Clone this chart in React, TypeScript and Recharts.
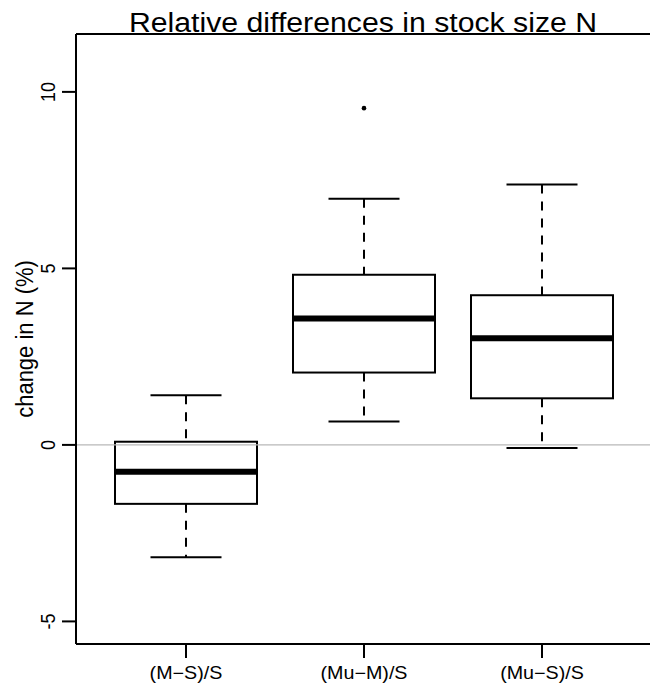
import React from 'react';
import { ComposedChart, Bar, Line, XAxis, YAxis, ReferenceLine } from 'recharts';

const categories = ['(M\u2212S)/S', '(Mu\u2212M)/S', '(Mu\u2212S)/S'];
const whiskerLow = [-3.18, 0.66, -0.09];
const q1 = [-1.67, 2.05, 1.32];
const median = [-0.76, 3.58, 3.02];
const q3 = [0.09, 4.82, 4.24];
const whiskerHigh = [1.41, 6.97, 7.38];
const outliers: number[][] = [[], [9.54], []];
const yTicks = [-5, 0, 5, 10];
const yLimits = [-5, 11];

const title = 'Relative differences in stock size N';
const yLabel = 'change in N (%)';

const FONT = '"Liberation Sans", Arial, Helvetica, sans-serif';
const SX = 1.12;

const ext = (yLimits[1] - yLimits[0]) * 0.04;
const yDomain = [yLimits[0] - ext, yLimits[1] + ext];

const data = categories.map((name, i) => ({
  name,
  box: [q1[i], q3[i]],
  lo: whiskerLow[i],
  q1: q1[i],
  med: median[i],
  q3: q3[i],
  hi: whiskerHigh[i],
  out: outliers[i],
  frame: yLimits[0],
}));

const BoxShape = (props: any) => {
  const { x, y, width, height, payload } = props;
  const top = Math.min(y, y + height);
  const bottom = Math.max(y, y + height);
  const ppu = (bottom - top) / (payload.q3 - payload.q1);
  const toY = (v: number) => top + (payload.q3 - v) * ppu;
  const cx = x + width / 2;
  const sw = width / 4;
  return (
    <g>
      <line x1={cx} x2={cx} y1={toY(payload.hi)} y2={top} stroke="#000" strokeWidth={2} strokeDasharray="9 8" />
      <line x1={cx} x2={cx} y1={bottom} y2={toY(payload.lo)} stroke="#000" strokeWidth={2} strokeDasharray="9 8" />
      <line x1={cx - sw} x2={cx + sw} y1={toY(payload.hi)} y2={toY(payload.hi)} stroke="#000" strokeWidth={2} />
      <line x1={cx - sw} x2={cx + sw} y1={toY(payload.lo)} y2={toY(payload.lo)} stroke="#000" strokeWidth={2} />
      <rect x={x} y={top} width={width} height={bottom - top} fill="none" stroke="#000" strokeWidth={2} />
      <line x1={x} x2={x + width} y1={toY(payload.med)} y2={toY(payload.med)} stroke="#000" strokeWidth={6} />
      {payload.out.map((v: number, k: number) => (
        <circle key={k} cx={cx} cy={toY(v)} r={2.3} fill="#000" />
      ))}
    </g>
  );
};

const YTick = (props: any) => {
  const { x, y, payload } = props;
  const tx = x - 12;
  return (
    <text
      x={0}
      y={0}
      transform={`translate(${tx}, ${y}) scale(${SX}, 1) rotate(-90)`}
      textAnchor="middle"
      dominantBaseline="central"
      fontSize={18}
      fontFamily={FONT}
      fill="#000"
    >
      {payload.value}
    </text>
  );
};

const XTick = (props: any) => {
  const { x, y, payload } = props;
  return (
    <text
      x={0}
      y={0}
      transform={`translate(${x}, ${y + 19}) scale(${SX}, 1)`}
      textAnchor="middle"
      fontSize={17.6}
      fontFamily={FONT}
      fill="#000"
    >
      {payload.value}
    </text>
  );
};

const YLabel = (props: any) => {
  const vb = props.viewBox || {};
  const lx = vb.x + 25;
  const ly = vb.y + vb.height / 2;
  return (
    <text
      x={0}
      y={0}
      transform={`translate(${lx}, ${ly}) scale(${SX}, 1) rotate(-90)`}
      textAnchor="middle"
      dominantBaseline="central"
      fontSize={22}
      fontFamily={FONT}
      fill="#000"
    >
      {yLabel}
    </text>
  );
};

const TitleLabel = (props: any) => {
  const vb = props.viewBox || {};
  return (
    <text
      x={0}
      y={0}
      transform={`translate(${vb.x + vb.width / 2}, ${vb.y - 2.5}) scale(${SX}, 1)`}
      textAnchor="middle"
      fontSize={27}
      fontFamily={FONT}
      fill="#000"
    >
      {title}
    </text>
  );
};

export default function App() {
  return (
    <div style={{ position: 'absolute', left: 0, top: 0, width: 651, height: 686, background: '#fff' }}>
      <ComposedChart
        width={651}
        height={686}
        data={data}
        margin={{ top: 34, right: 1, bottom: 0, left: 0 }}
        style={{ fontFamily: FONT }}
      >
        <XAxis
          dataKey="name"
          type="category"
          height={42}
          padding={{ left: 21, right: 19 }}
          tickSize={14}
          tickMargin={2}
          axisLine={{ stroke: '#000', strokeWidth: 2 }}
          tickLine={{ stroke: '#000', strokeWidth: 2 }}
          tick={<XTick />}
          interval={0}
        />
        <YAxis
          type="number"
          domain={yDomain}
          ticks={yTicks}
          allowDataOverflow
          width={76}
          tickSize={14}
          tickMargin={2}
          axisLine={{ stroke: '#000', strokeWidth: 2 }}
          tickLine={{ stroke: '#000', strokeWidth: 2 }}
          tick={<YTick />}
          label={<YLabel />}
        />
        <YAxis
          yAxisId="right"
          orientation="right"
          type="number"
          domain={yDomain}
          allowDataOverflow
          width={0}
          tick={false}
          tickLine={false}
          axisLine={{ stroke: '#000', strokeWidth: 2 }}
        />
        <Line
          yAxisId="right"
          dataKey="frame"
          stroke="none"
          dot={false}
          activeDot={false}
          legendType="none"
          isAnimationActive={false}
        />
        <ReferenceLine y={0} stroke="#b8b8b8" strokeWidth={1.3} />
        <ReferenceLine
          y={yDomain[1]}
          stroke="#000"
          strokeWidth={2}
          ifOverflow="visible"
          label={<TitleLabel />}
        />
        <Bar dataKey="box" barSize={142} shape={<BoxShape />} isAnimationActive={false} />
      </ComposedChart>
    </div>
  );
}
